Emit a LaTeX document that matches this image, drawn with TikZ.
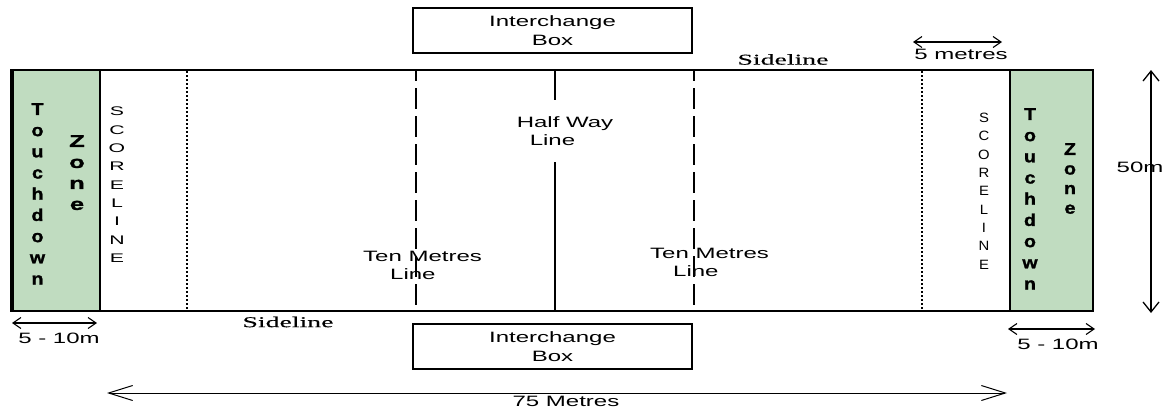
\documentclass[tikz,border=0pt]{standalone}
\usepackage{fontspec}
\usetikzlibrary{arrows.meta}
\newfontfamily\lblfont[FakeStretch=1.6]{Liberation Sans}
\newfontfamily\scfontL[FakeStretch=1.7]{Liberation Sans}
\newfontfamily\scfontR[FakeStretch=1.1]{Liberation Sans}
\newfontfamily\tdfont[FakeStretch=1.15,FakeBold=1.5]{Liberation Sans Bold}
\newfontfamily\zfontL[FakeStretch=1.5,FakeBold=1.5]{Liberation Sans Bold}
\newfontfamily\sidefont[FakeStretch=1.85,FakeBold=0.25]{Liberation Serif}
\definecolor{zonegreen}{RGB}{192,220,192}
\begin{document}
\begin{tikzpicture}[x=1pt,y=-1pt,
  lbl/.style={font=\lblfont\fontsize{15}{18}\selectfont, inner sep=0pt},
  side/.style={font=\sidefont\fontsize{15}{18}\selectfont, inner sep=0pt},
  ibox/.style={draw, line width=1.5pt, minimum width=279pt, minimum height=45pt,
    align=center, font=\lblfont\fontsize{15}{19}\selectfont, inner sep=0pt},
  stack/.style={align=center, inner sep=0pt, anchor=north},
  td/.style={stack, font=\tdfont\fontsize{17}{21.2}\selectfont},
  zoneL/.style={stack, font=\zfontL\fontsize{17}{21}\selectfont},
  zoneR/.style={stack, font=\tdfont\fontsize{17}{19.6}\selectfont},
  scL/.style={stack, font=\scfontL\fontsize{12.5}{18.3}\selectfont},
  scR/.style={stack, font=\scfontR\fontsize{13.5}{18.3}\selectfont},
  dim/.style={line width=1.1pt, {Straight Barb[length=8pt,width=11pt]}-{Straight Barb[length=8pt,width=11pt]}},
  dimv/.style={line width=1.3pt, {Straight Barb[length=10pt,width=16pt]}-{Straight Barb[length=10pt,width=16pt]}},
  dimbig/.style={line width=1pt, {Straight Barb[length=24pt,width=15pt]}-{Straight Barb[length=24pt,width=15pt]}},
  tenline/.style={line width=2pt, dash pattern=on 21pt off 7pt, dash phase=10pt},
  dotline/.style={line width=2pt, dash pattern=on 2pt off 2pt},
]
\useasboundingbox (0,0) rectangle (1168,408);
% touchdown zones
\fill[zonegreen] (12,70) rectangle (100,311);
\fill[zonegreen] (1010,70) rectangle (1093,311);
\draw[line width=1.3pt] (100,70) -- (100,311);
\draw[line width=1.3pt] (1010,70) -- (1010,311);
% field lines
\draw[dotline] (187,71) -- (187,310);
\draw[dotline] (922,71) -- (922,310);
\draw[tenline] (416,70) -- (416,311);
\draw[tenline] (694,70) -- (694,311);
\draw[line width=2pt] (555,70) -- (555,311);
% field border
\draw[line width=2.5pt] (12,70) rectangle (1093,311);
\draw[line width=4pt] (12,69) -- (12,312);
% interchange boxes
\node[ibox] (ibtop) at (552.5,30.5) {Interchange\\Box};
\node[ibox] (ibbot) at (552.5,346.5) {Interchange\\Box};
% sidelines
\node[side] (sltop) at (783,59.5) {Sideline};
\node[side] (slbot) at (288,322) {Sideline};
% line labels
\node[lbl, fill=white, align=left, minimum height=62pt, inner xsep=2pt] (hw) at (565,130.9) {Half Way\\\hspace*{13pt}Line};
\node[lbl, align=left, anchor=north west] (tenL) at (363,251) {Ten Metres\\\hspace*{27pt}Line};
\node[lbl, align=left, anchor=north west] (tenR) at (650,248) {Ten Metres\\\hspace*{23pt}Line};
% zone texts
\node[td] (tdL) at (37.5,103) {T\\o\\u\\c\\h\\d\\o\\w\\n};
\node[zoneL] (znL) at (77,135) {Z\\o\\n\\e};
\node[scL] (scoreL) at (117,107) {S\\C\\O\\R\\E\\L\\I\\N\\E};
\node[scR] (scoreR) at (984,113) {S\\C\\O\\R\\E\\L\\I\\N\\E};
\node[td] (tdR) at (1030,108) {T\\o\\u\\c\\h\\d\\o\\w\\n};
\node[zoneR] (znR) at (1070,143) {Z\\o\\n\\e};
% dimensions
\coordinate (m5a) at (913,42); \coordinate (m5b) at (1002,42);
\draw[dim] (m5a) -- (m5b);
\node[lbl] (m5t) at (961,54.5) {5 metres};
\coordinate (h50a) at (1151,70); \coordinate (h50b) at (1151,313);
\draw[dimv] (h50a) -- (h50b);
\node[lbl] (h50t) at (1140,167) {50m};
\coordinate (tzLa) at (12,323); \coordinate (tzLb) at (97,323);
\draw[dim] (tzLa) -- (tzLb);
\node[lbl] (tzLt) at (59,338) {5 - 10m};
\coordinate (tzRa) at (1008,329); \coordinate (tzRb) at (1095,329);
\draw[dim] (tzRa) -- (tzRb);
\node[lbl] (tzRt) at (1058,344) {5 - 10m};
\coordinate (l75a) at (107,393); \coordinate (l75b) at (1007,393);
\draw[dimbig] (l75a) -- (l75b);
\node[lbl] (l75t) at (566,401.5) {75 Metres};
\end{tikzpicture}
\end{document}
